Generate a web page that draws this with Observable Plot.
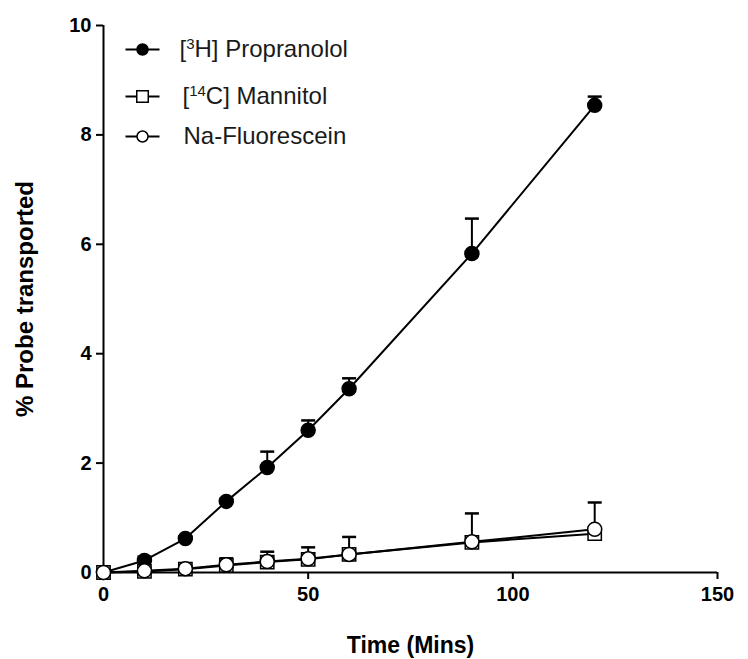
<!DOCTYPE html>
<html><head><meta charset="utf-8">
<script src="https://cdn.jsdelivr.net/npm/d3@7"></script>
<script src="https://cdn.jsdelivr.net/npm/@observablehq/plot@0.6"></script>
<style>body{margin:0;background:#fff}</style>
</head><body><div id="chart"></div>
<script>
const time = [0, 10, 20, 30, 40, 50, 60, 90, 120];
const propranolol = [0, 0.22, 0.62, 1.30, 1.92, 2.60, 3.36, 5.83, 8.54];
const propranololErr = [0, 0.07, 0.04, 0.05, 0.29, 0.18, 0.19, 0.64, 0.16];
const mannitol = [0, 0.02, 0.06, 0.13, 0.19, 0.24, 0.33, 0.55, 0.71];
const mannitolErr = [0, 0.02, 0.02, 0.03, 0.04, 0.04, 0.05, 0.06, 0.06];
const fluorescein = [0, 0.03, 0.07, 0.14, 0.20, 0.25, 0.33, 0.56, 0.79];
const fluoresceinErr = [0, 0.02, 0.03, 0.12, 0.18, 0.21, 0.32, 0.52, 0.49];
const seriesNames = ["[³H] Propranolol", "[¹⁴C] Mannitol", "Na-Fluorescein"];
const xTicks = [0, 50, 100, 150];
const yTicks = [0, 2, 4, 6, 8, 10];
const xLabel = "Time (Mins)";
const yLabel = "% Probe transported";

const series = [
  {name: seriesNames[0], vals: propranolol, err: propranololErr, symbol: "circle", fill: "black"},
  {name: seriesNames[1], vals: mannitol, err: mannitolErr, symbol: "square", fill: "white"},
  {name: seriesNames[2], vals: fluorescein, err: fluoresceinErr, symbol: "circle", fill: "white"}
];
const rows = series.flatMap(s => time.map((t, i) => ({name: s.name, t, v: s.vals[i], e: s.err[i], top: s.vals[i] + s.err[i]})));

const hline = {draw(ctx, size) { const w = Math.sqrt(size / Math.PI); ctx.moveTo(-w, 0); ctx.lineTo(w, 0); }};
const font = "'Liberation Sans', Arial, sans-serif";

const marks = [
  Plot.ruleX([0], {strokeWidth: 2}),
  Plot.ruleY([0], {strokeWidth: 2}),
  Plot.axisX({ticks: xTicks, tickSize: 7, tickPadding: 7, fontSize: 20, fontWeight: "bold", label: null, strokeWidth: 2}),
  Plot.axisY({ticks: yTicks, tickSize: 7, tickPadding: 5, fontSize: 20, fontWeight: "bold", label: null, strokeWidth: 2}),
  Plot.text([xLabel], {frameAnchor: "bottom", dy: 73, fontSize: 23, fontWeight: "bold", textAnchor: "middle", lineAnchor: "middle"}),
  Plot.text([yLabel], {frameAnchor: "left", dx: -78, rotate: -90, fontSize: 24, fontWeight: "bold", textAnchor: "middle", lineAnchor: "middle"})
];
series.forEach(s => {
  const d = rows.filter(r => r.name === s.name && r.e > 0);
  marks.push(Plot.ruleX(d, {x: "t", y1: "v", y2: "top", strokeWidth: 2}));
  marks.push(Plot.dot(d, {x: "t", y: "top", symbol: hline, r: 7, stroke: "black", strokeWidth: 2.5}));
});
series.forEach(s => {
  marks.push(Plot.line(rows.filter(r => r.name === s.name), {x: "t", y: "v", stroke: "black", strokeWidth: 2}));
});
[0, 1, 2].forEach(k => {
  const s = series[k];
  marks.push(Plot.dot(rows.filter(r => r.name === s.name), {x: "t", y: "v", symbol: s.symbol, r: s.symbol === "square" ? 7.5 : 7, fill: s.fill, stroke: "black", strokeWidth: 1.5}));
});
// legend
const legendDy = [24, 71, 111];
const legendTextDx = [76, 79, 80];
series.forEach((s, i) => {
  marks.push(Plot.dot([s.name], {frameAnchor: "top-left", dx: 39, dy: legendDy[i], symbol: hline, r: 17, stroke: "black", strokeWidth: 2}));
  marks.push(Plot.dot([s.name], {frameAnchor: "top-left", dx: 39, dy: legendDy[i], symbol: s.symbol, r: s.symbol === "square" ? 6.5 : 5.5, fill: s.fill, stroke: "black", strokeWidth: 1.5}));
  marks.push(Plot.text([s.name], {frameAnchor: "top-left", dx: legendTextDx[i], dy: legendDy[i], text: d => d, fontSize: 24, textAnchor: "start", lineAnchor: "middle", fill: "#1a1a1a", className: "legend-label"}));
});

const chart = Plot.plot({
  width: 748, height: 659,
  marginLeft: 103, marginRight: 31, marginTop: 25, marginBottom: 87,
  style: {fontFamily: font, color: "black", background: "white"},
  x: {domain: [0, 150]},
  y: {domain: [0, 10]},
  marks
});
// render superscript digits as raised tspans
const supMap = {"⁰":"0","¹":"1","²":"2","³":"3","⁴":"4","⁵":"5","⁶":"6","⁷":"7","⁸":"8","⁹":"9"};
d3.select(chart).selectAll(".legend-label text").each(function() {
  const el = d3.select(this);
  const str = el.text();
  const parts = [];
  for (const ch of str) {
    const sup = ch in supMap;
    const c = sup ? supMap[ch] : ch;
    if (parts.length && parts[parts.length - 1].sup === sup) parts[parts.length - 1].t += c;
    else parts.push({t: c, sup});
  }
  el.text(null);
  parts.forEach(p => {
    const ts = el.append("tspan").text(p.t);
    if (p.sup) ts.attr("font-size", 15).attr("baseline-shift", "55%");
  });
});
document.getElementById("chart").appendChild(chart);
</script>
</body></html>
